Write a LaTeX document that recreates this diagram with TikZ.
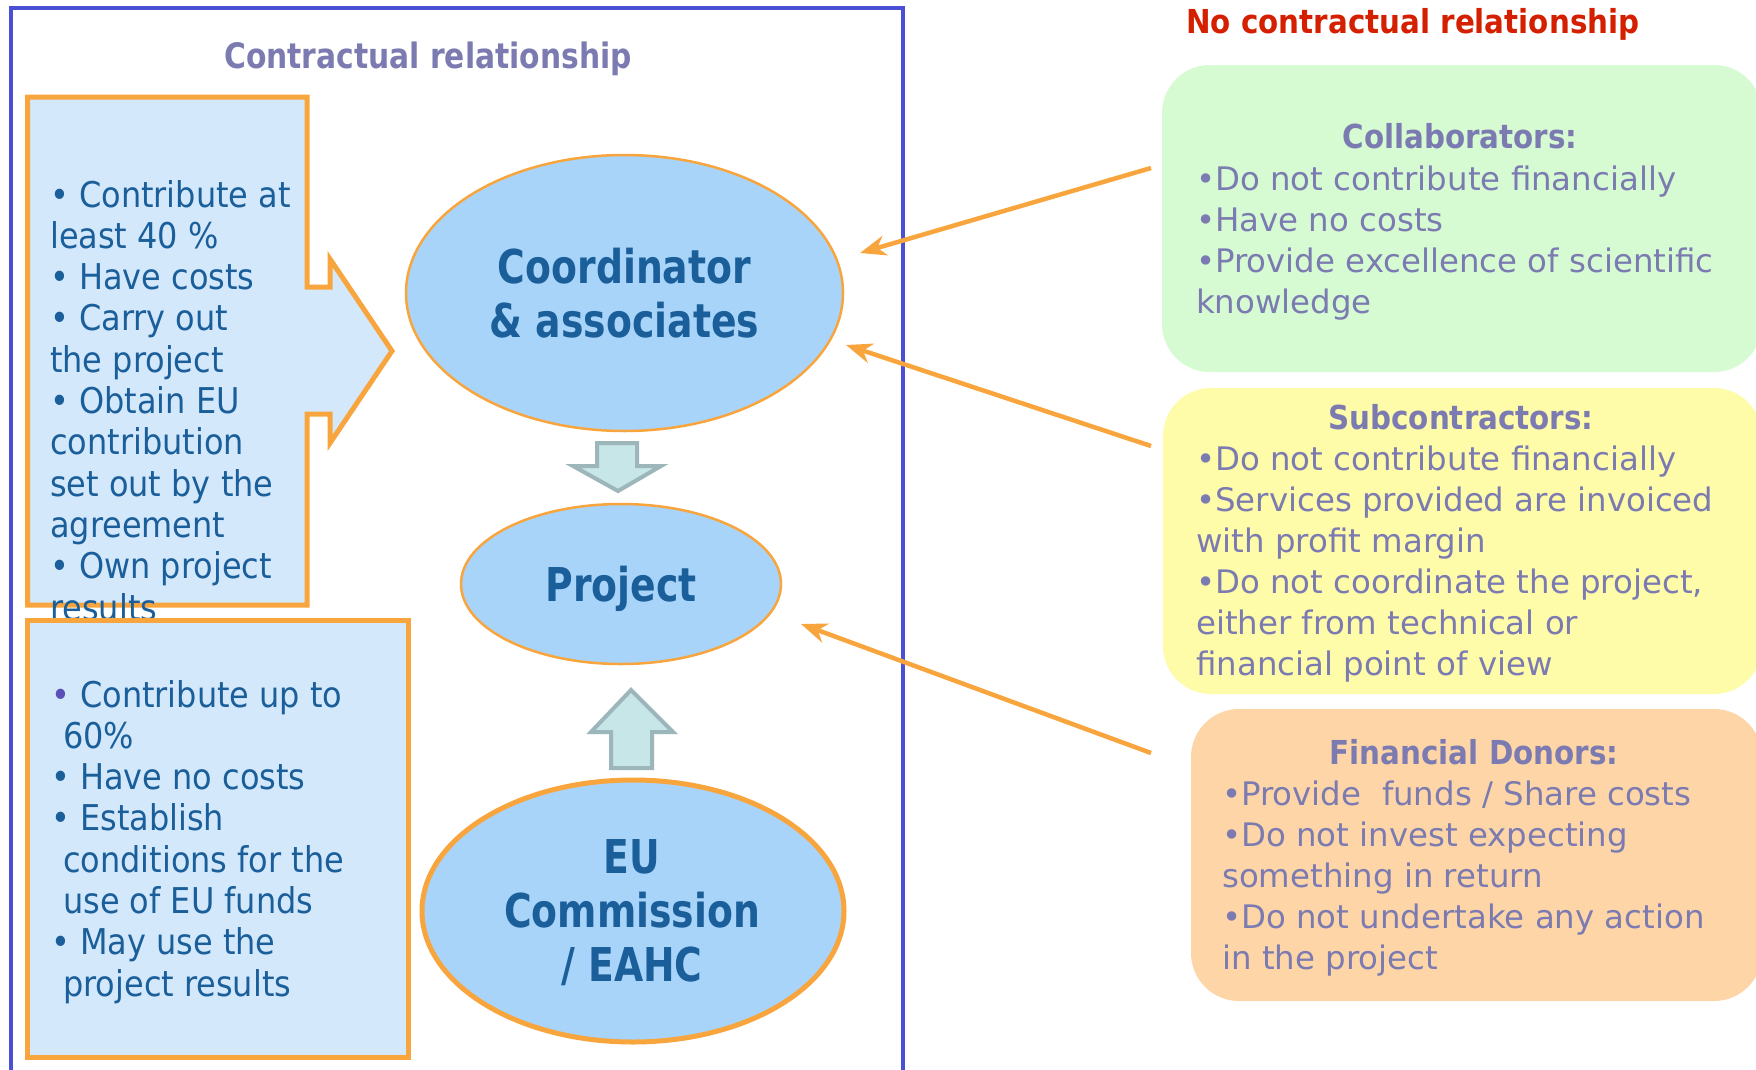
\documentclass[tikz,border=0pt]{standalone}
\usepackage{fontspec}
\setmainfont{DejaVu Sans}
\newfontfamily\bodyfont{DejaVu Sans}
\newfontfamily\condfont[FakeStretch=0.9]{DejaVu Sans}
\newfontfamily\labfont[FakeStretch=0.81]{DejaVu Sans}
\newfontfamily\headfont[FakeStretch=0.89]{DejaVu Sans}
\newfontfamily\ctitlefont[FakeStretch=0.85]{DejaVu Sans}
\usetikzlibrary{arrows.meta,shapes.geometric}

\definecolor{frameblue}{HTML}{4B4FD6}
\definecolor{orangeline}{HTML}{F9A53E}
\definecolor{boxblue}{HTML}{D4E8FC}
\definecolor{ellblue}{HTML}{A9D4FA}
\definecolor{textblue}{HTML}{1A5E9A}
\definecolor{slate}{HTML}{7B7BB1}
\definecolor{noRed}{HTML}{D42000}
\definecolor{greenbox}{HTML}{D6FBD3}
\definecolor{yellowbox}{HTML}{FEFBA9}
\definecolor{peachbox}{HTML}{FED5A7}
\definecolor{blockfill}{HTML}{C7E6E7}
\definecolor{blockline}{HTML}{9DB6B9}
\definecolor{bulletpurple}{HTML}{5B50B8}

\begin{document}
\begin{tikzpicture}[x=1pt,y=-1pt,
  lefttext/.style={anchor=base west, inner sep=0pt, text=textblue,
    font=\condfont\fontsize{35.5}{41.3}\selectfont},
  ellabel/.style={anchor=base, inner sep=0pt, text=textblue,
    font=\labfont\bfseries\fontsize{46.6}{54}\selectfont},
  party/.style={ellipse, draw=orangeline, fill=ellblue, inner sep=0pt},
  listbox/.style={draw=orangeline, line width=5pt, fill=boxblue, line join=miter},
  blockarrow/.style={draw=blockline, fill=blockfill, line width=4pt, line join=miter},
  rbox/.style={rectangle, rounded corners=48pt, draw=none, inner sep=0pt},
  rtitle/.style={anchor=base, inner sep=0pt, text=slate,
    font=\headfont\bfseries\fontsize{33}{41}\selectfont},
  rtext/.style={anchor=base west, inner sep=0pt, text=slate,
    font=\bodyfont\fontsize{32.4}{41}\selectfont},
  link/.style={draw=orangeline, line width=4.5pt,
    -{Stealth[length=26pt,width=20pt,inset=8pt]}}]

\useasboundingbox (0,0) rectangle (1756,1069);
\fill[white] (0,0) rectangle (1756,1069);

% frame around the contractual parties
\draw[frameblue, line width=4pt] (11,8) rectangle (903,1095);
\node[anchor=base, inner sep=0pt, text=slate,
  font=\ctitlefont\bfseries\fontsize{35}{41}\selectfont] (ctitle) at (428,68)
  {Contractual relationship};

% callout box of the coordinator and associates
\draw[listbox] (27.5,97) -- (307,97) -- (307,287) -- (330,287) -- (330,259)
  -- (392,351) -- (330,443) -- (330,414) -- (307,414) -- (307,605)
  -- (27.5,605) -- cycle;
\node[lefttext] (coordlist) at (50,207) {\begin{tabular}[t]{@{}l@{}}
• Contribute at\\
least 40 \%\\
• Have costs\\
• Carry out\\
the project\\
• Obtain EU\\
contribution\\
set out by the\\
agreement\\
• Own project\\
results
\end{tabular}};

% box of the commission
\draw[listbox] (27.5,620) rectangle (408,1057);
\node[lefttext] (eulist) at (51,707) {\begin{tabular}[t]{@{}l@{}}
{\color{bulletpurple}•} Contribute up to\\
\hspace*{12pt}60\%\\
• Have no costs\\
• Establish\\
\hspace*{12pt}conditions for the\\
\hspace*{12pt}use of EU funds\\
• May use the\\
\hspace*{12pt}project results
\end{tabular}};

% the three parties
\node[party, line width=2.5pt, minimum width=437pt, minimum height=276pt]
  (coord) at (624.5,293) {};
\node[ellabel] (coordtxt) at (624.5,283)
  {\begin{tabular}[t]{@{}c@{}}Coordinator\\\& associates\end{tabular}};

\node[party, line width=2.5pt, minimum width=320pt, minimum height=160pt]
  (proj) at (621,584) {};
\node[ellabel] (projtxt) at (621,601) {Project};

\node[party, line width=5pt, minimum width=422pt, minimum height=262pt]
  (eu) at (633,911) {};
\node[ellabel] (eutxt) at (632,873)
  {\begin{tabular}[t]{@{}c@{}}EU\\Commission\\/ EAHC\end{tabular}};

% block arrows towards the project
\draw[blockarrow] (597,443) -- (637,443) -- (637,466) -- (661,466) -- (618,491)
  -- (573,466) -- (597,466) -- cycle;
\draw[blockarrow] (611,768) -- (652,768) -- (652,732) -- (673,732) -- (631,690)
  -- (591,732) -- (611,732) -- cycle;

% parties without a contract
\node[anchor=base west, inner sep=0pt, text=noRed,
  font=\headfont\bfseries\fontsize{33}{41}\selectfont] (nctitle) at (1186,33)
  {No contractual relationship};

\node[rbox, fill=greenbox, minimum width=600pt, minimum height=307pt]
  (collab) at (1462,218.5) {};
\node[rtitle] (collabttl) at (1460,148) {Collaborators:};
\node[rtext] (collabtxt) at (1196,190) {\begin{tabular}[t]{@{}l@{}}
•Do not contribute financially\\
•Have no costs\\
•Provide excellence of scientific\\
knowledge
\end{tabular}};

\node[rbox, fill=yellowbox, minimum width=599pt, minimum height=306pt]
  (subc) at (1462.5,541) {};
\node[rtitle] (subcttl) at (1461,429) {Subcontractors:};
\node[rtext] (subctxt) at (1196,470) {\begin{tabular}[t]{@{}l@{}}
•Do not contribute financially\\
•Services provided are invoiced\\
with profit margin\\
•Do not coordinate the project,\\
either from technical or\\
financial point of view
\end{tabular}};

\node[rbox, fill=peachbox, minimum width=571pt, minimum height=292pt]
  (donor) at (1476.5,855) {};
\node[rtitle] (donorttl) at (1474,764) {Financial Donors:};
\node[rtext] (donortxt) at (1222,805) {\begin{tabular}[t]{@{}l@{}}
•Provide\ \ funds / Share costs\\
•Do not invest expecting\\
something in return\\
•Do not undertake any action\\
in the project
\end{tabular}};

% links from the outside parties
\coordinate (collabout) at (1151,168);
\coordinate (collabin) at (860,253);
\coordinate (subcout) at (1151,446);
\coordinate (subcin) at (846,345);
\coordinate (donorout) at (1151,753);
\coordinate (donorin) at (801,624);
\draw[link] (collabout) -- (collabin);
\draw[link] (subcout) -- (subcin);
\draw[link] (donorout) -- (donorin);
\end{tikzpicture}
\end{document}
